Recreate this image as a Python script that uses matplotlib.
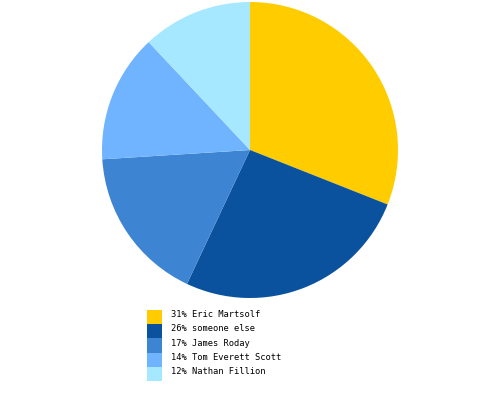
import matplotlib
matplotlib.use("Agg")
import matplotlib.pyplot as plt
from matplotlib.patches import Rectangle

names = ["Eric Martsolf", "someone else", "James Roday", "Tom Everett Scott", "Nathan Fillion"]
values = [31, 26, 17, 14, 12]
colors = ["#FFCC00", "#0A529E", "#3D85D2", "#70B4FF", "#A5E8FF"]

W, H = 500, 400
fig = plt.figure(figsize=(W / 100, H / 100), dpi=100)
fig.patch.set_facecolor("white")

cx, cy, r = 250, 150, 148
ax = fig.add_axes([(cx - r) / W, (H - cy - r) / H, 2 * r / W, 2 * r / H])
ax.pie(values, colors=colors, startangle=90, counterclock=False,
       wedgeprops=dict(linewidth=0))
ax.set_xlim(-1, 1)
ax.set_ylim(-1, 1)
ax.set_aspect("equal")
ax.axis("off")

# legend
lx, ly0, sw, sh = 147, 310, 15, 14.2
for i, (n, v, c) in enumerate(zip(names, values, colors)):
    top = ly0 + i * sh
    fig.add_artist(Rectangle((lx / W, 1 - (top + sh) / H), sw / W, sh / H,
                             transform=fig.transFigure, facecolor=c, edgecolor="none"))
    fig.text(171 / W, 1 - (top + sh / 2 - 2.5) / H, f"{v}% {n}",
             fontsize=6.3, family="DejaVu Sans Mono", va="center", ha="left", color="black")

fig.savefig("out.png", dpi=100, facecolor="white")
